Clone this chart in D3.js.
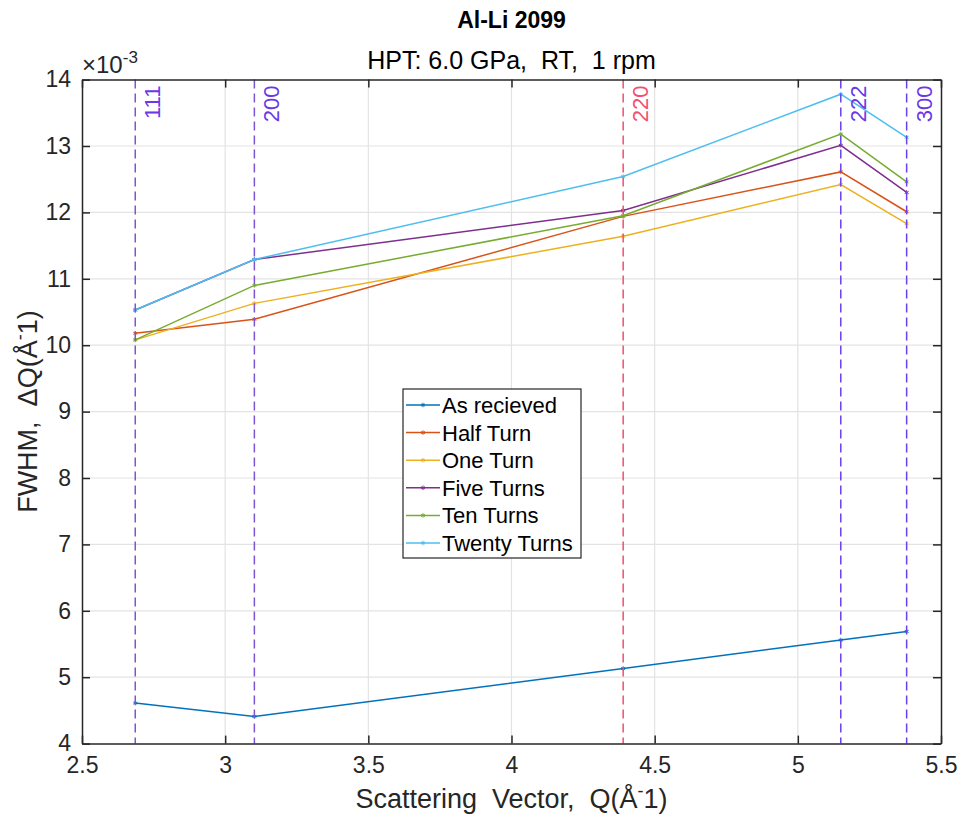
<!DOCTYPE html>
<html>
<head>
<meta charset="utf-8">
<script src="https://cdn.jsdelivr.net/npm/d3@7"></script>
<style>
  html, body { margin: 0; padding: 0; background: #fff; }
  svg { display: block; font-family: "Liberation Sans", Arial, Helvetica, sans-serif; }
</style>
</head>
<body>
<svg id="chart" width="961" height="817"></svg>
<script>
// Peak positions (Q, Å^-1) for the measured reflections
const peakQ = [2.686, 3.102, 4.390, 5.150, 5.380];
const peakLabels = ["111", "200", "220", "222", "300"];
const peakColors = ["#7d55d2", "#7d55d2", "#f2506e", "#6a40ee", "#6a40ee"];
const peakLabelColors = ["#6a38e6", "#6a38e6", "#f2506e", "#6a38e6", "#6a38e6"];

// FWHM values (×10^-3 Å^-1) per processing state
const seriesNames = ["As recieved", "Half Turn", "One Turn", "Five Turns", "Ten Turns", "Twenty Turns"];
const seriesColors = ["#0072BD", "#D95319", "#EDB120", "#7E2F8E", "#77AC30", "#4DBEEE"];
const asReceived = [4.61, 4.41, 5.13, 5.56, 5.69];
const halfTurn   = [10.18, 10.39, 11.94, 12.61, 12.01];
const oneTurn    = [10.08, 10.63, 11.64, 12.42, 11.83];
const fiveTurns  = [10.53, 11.29, 12.03, 13.01, 12.30];
const tenTurns   = [10.08, 10.90, 11.95, 13.18, 12.46];
const twentyTurns= [10.53, 11.29, 12.54, 13.78, 13.13];
const seriesValues = [asReceived, halfTurn, oneTurn, fiveTurns, tenTurns, twentyTurns];

const xTicks = [2.5, 3, 3.5, 4, 4.5, 5, 5.5];
const yTicks = [4, 5, 6, 7, 8, 9, 10, 11, 12, 13, 14];

const svg = d3.select("#chart");
const m = { left: 82, right: 941, top: 79.6, bottom: 743.6 };

const x = d3.scaleLinear().domain([2.5, 5.5]).range([m.left, m.right]);
const y = d3.scaleLinear().domain([4, 14]).range([m.bottom, m.top]);

const axisColor = "#262626";
const gridColor = "#e3e3e3";

// grid
const grid = svg.append("g");
grid.selectAll("line.gx").data(xTicks.slice(1, -1)).join("line")
  .attr("x1", d => x(d)).attr("x2", d => x(d))
  .attr("y1", m.top).attr("y2", m.bottom)
  .attr("stroke", gridColor).attr("stroke-width", 1.2);
grid.selectAll("line.gy").data(yTicks.slice(1, -1)).join("line")
  .attr("y1", d => y(d)).attr("y2", d => y(d))
  .attr("x1", m.left).attr("x2", m.right)
  .attr("stroke", gridColor).attr("stroke-width", 1.2);

// series lines
const line = d3.line().x((d, i) => x(peakQ[i])).y(d => y(d));
const marker = d3.symbol().type(d3.symbolAsterisk || d3.symbolCross).size(14);

seriesValues.forEach((vals, s) => {
  const g = svg.append("g");
  g.append("path").datum(vals)
    .attr("d", line).attr("fill", "none")
    .attr("stroke", seriesColors[s]).attr("stroke-width", 1.5);
  g.selectAll("path.mk").data(vals).join("path")
    .attr("transform", (d, i) => `translate(${x(peakQ[i])},${y(d)})`)
    .attr("d", marker).attr("fill", "none")
    .attr("stroke", seriesColors[s]).attr("stroke-width", 1);
});

// reflection markers
const refl = svg.append("g");
peakQ.forEach((q, i) => {
  refl.append("line")
    .attr("x1", x(q)).attr("x2", x(q))
    .attr("y1", m.top).attr("y2", m.bottom)
    .attr("stroke", peakColors[i]).attr("stroke-width", 1.5)
    .attr("stroke-dasharray", "9,5");
  refl.append("text")
    .attr("transform", `translate(${x(q) + 25},${m.top + 6}) rotate(-90)`)
    .attr("text-anchor", "end")
    .attr("font-size", 22)
    .attr("fill", peakLabelColors[i])
    .text(peakLabels[i]);
});

// axes
const xAxisB = d3.axisBottom(x).tickValues(xTicks).tickSizeInner(-8).tickSizeOuter(0).tickPadding(13).tickFormat(d3.format("~g"));
const xAxisT = d3.axisTop(x).tickValues(xTicks).tickSizeInner(-8).tickSizeOuter(0).tickFormat("");
const yAxisL = d3.axisLeft(y).tickValues(yTicks).tickSizeInner(-8).tickSizeOuter(0).tickPadding(11).tickFormat(d3.format("~g"));
const yAxisR = d3.axisRight(y).tickValues(yTicks).tickSizeInner(-8).tickSizeOuter(0).tickFormat("");

function styleAxis(g) {
  g.select(".domain").attr("stroke", axisColor).attr("stroke-width", 1.5);
  g.selectAll(".tick line").attr("stroke", axisColor).attr("stroke-width", 1.5);
  g.selectAll(".tick text").attr("fill", "#262626").attr("font-size", 23)
    .attr("font-family", "Liberation Sans, Arial, sans-serif");
}
svg.append("g").attr("transform", `translate(0,${m.bottom})`).call(xAxisB).call(styleAxis);
svg.append("g").attr("transform", `translate(0,${m.top})`).call(xAxisT).call(styleAxis);
svg.append("g").attr("transform", `translate(${m.left},0)`).call(yAxisL).call(styleAxis);
svg.append("g").attr("transform", `translate(${m.right},0)`).call(yAxisR).call(styleAxis);

// exponent
const ex = svg.append("text").attr("x", m.left).attr("y", m.top - 7)
  .attr("font-size", 24).attr("fill", "#262626");
ex.append("tspan").text("×10");
ex.append("tspan").attr("dy", -10).attr("font-size", 17).text("-3");

// titles
svg.append("text").attr("x", (m.left + m.right) / 2).attr("y", 28)
  .attr("text-anchor", "middle").attr("font-size", 23).attr("font-weight", "bold")
  .attr("fill", "#000").text("Al-Li 2099");
svg.append("text").attr("x", (m.left + m.right) / 2).attr("y", 69)
  .attr("text-anchor", "middle").attr("font-size", 25)
  .attr("fill", "#000").attr("xml:space", "preserve").text("HPT: 6.0 GPa,  RT,  1 rpm");

// axis labels
const xl = svg.append("text").attr("x", (m.left + m.right) / 2).attr("y", 808)
  .attr("text-anchor", "middle").attr("font-size", 27).attr("fill", "#262626")
  .attr("xml:space", "preserve");
xl.append("tspan").text("Scattering  Vector,  Q(Å");
xl.append("tspan").attr("dy", -11).attr("font-size", 18).text("-");
xl.append("tspan").attr("dy", 11).text("1)");

const yl = svg.append("text")
  .attr("transform", `translate(37,${(m.top + m.bottom) / 2}) rotate(-90)`)
  .attr("text-anchor", "middle").attr("font-size", 27).attr("fill", "#262626")
  .attr("xml:space", "preserve");
yl.append("tspan").text("FWHM,  ΔQ(Å");
yl.append("tspan").attr("dy", -11).attr("font-size", 18).text("-");
yl.append("tspan").attr("dy", 11).text("1)");

// legend
const lg = svg.append("g").attr("transform", "translate(403,389)");
lg.append("rect").attr("width", 178).attr("height", 169)
  .attr("fill", "#fff").attr("stroke", "#262626").attr("stroke-width", 1.2);
seriesNames.forEach((name, i) => {
  const cy = 16 + i * 27.6;
  lg.append("line").attr("x1", 3).attr("x2", 37).attr("y1", cy).attr("y2", cy)
    .attr("stroke", seriesColors[i]).attr("stroke-width", 1.5);
  lg.append("path").attr("transform", `translate(20,${cy})`).attr("d", marker)
    .attr("fill", "none").attr("stroke", seriesColors[i]).attr("stroke-width", 1);
  lg.append("text").attr("x", 39).attr("y", cy + 8).attr("font-size", 22)
    .attr("fill", "#000").text(name);
});
</script>
</body>
</html>
